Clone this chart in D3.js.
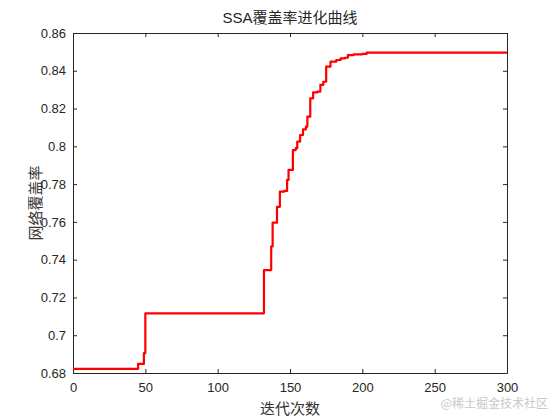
<!DOCTYPE html>
<html><head><meta charset="utf-8">
<script src="https://cdn.jsdelivr.net/npm/d3@7"></script>
<style>body{margin:0;background:#fff}</style>
</head><body>
<svg id="c" width="560" height="420"></svg>
<script>
// breakpoints of the best-coverage curve (iteration where value changes)
const iterations = [0, 45, 49, 50, 132, 137, 138, 141, 143, 146, 148, 149, 152, 154, 155, 157, 159, 161, 162, 164, 166, 169, 171, 173, 175, 178, 182, 185, 188, 190, 194, 200, 203, 300];
const coverage  = [0.6822, 0.6848, 0.6905, 0.7116, 0.7345, 0.7470, 0.7596, 0.7680, 0.7760, 0.7764, 0.7822, 0.7875, 0.7980, 0.7990, 0.8025, 0.8060, 0.8090, 0.8104, 0.8157, 0.8254, 0.8286, 0.8290, 0.8325, 0.8342, 0.8422, 0.8448, 0.8457, 0.8466, 0.8469, 0.8483, 0.8487, 0.8489, 0.8496, 0.8496];
const xTicks = [0, 50, 100, 150, 200, 250, 300];
const yTicks = [0.68, 0.70, 0.72, 0.74, 0.76, 0.78, 0.80, 0.82, 0.84, 0.86];
const titleText = "SSA覆盖率进化曲线";
const xLabel = "迭代次数";
const yLabel = "网络覆盖率";
const watermark = "@稀土掘金技术社区";

const svg = d3.select("#c");
const L = 73, R = 507, T = 33, B = 373;
const x = d3.scaleLinear().domain([0, 300]).range([L, R]);
const y = d3.scaleLinear().domain([0.68, 0.86]).range([B, T]);
const font = "'Liberation Sans', Arial, sans-serif";
const cjk = "'Noto Sans CJK SC', sans-serif";

const fmt = d => d3.format("")(+d.toFixed(2));

// axes with inward ticks
const gx = svg.append("g").attr("transform", `translate(0,${B})`)
  .call(d3.axisBottom(x).tickValues(xTicks).tickSizeInner(-4).tickSizeOuter(0).tickPadding(10));
const gxTop = svg.append("g").attr("transform", `translate(0,${T})`)
  .call(d3.axisTop(x).tickValues(xTicks).tickSizeInner(-4).tickSizeOuter(0).tickFormat(""));
const gy = svg.append("g").attr("transform", `translate(${L},0)`)
  .call(d3.axisLeft(y).tickValues(yTicks).tickSizeInner(-4).tickSizeOuter(0).tickPadding(7).tickFormat(fmt));
const gyR = svg.append("g").attr("transform", `translate(${R},0)`)
  .call(d3.axisRight(y).tickValues(yTicks).tickSizeInner(-4).tickSizeOuter(0).tickFormat(""));

[gx, gxTop, gy, gyR].forEach(g => {
  g.selectAll("path").attr("stroke", "#262626").attr("stroke-width", 1);
  g.selectAll("line").attr("stroke", "#262626");
  g.selectAll("text").attr("font-family", font).attr("font-size", 13).attr("fill", "#262626");
});

// curve
const data = iterations.map((d, i) => [d, coverage[i]]);
svg.append("path").datum(data)
  .attr("fill", "none").attr("stroke", "#ff0000").attr("stroke-width", 2.2)
  .attr("stroke-linejoin", "round")
  .attr("d", d3.line().x(d => x(d[0])).y(d => y(d[1])).curve(d3.curveStepAfter));

// texts
svg.append("text").attr("x", (L + R) / 2).attr("y", 23).attr("text-anchor", "middle")
  .attr("font-family", font + ", " + cjk).attr("font-size", 15).attr("fill", "#262626").text(titleText);
svg.append("text").attr("x", (L + R) / 2).attr("y", 414).attr("text-anchor", "middle")
  .attr("font-family", cjk).attr("font-size", 15).attr("fill", "#333").text(xLabel);
svg.append("text").attr("transform", `translate(41,${(T + B) / 2}) rotate(-90)`).attr("text-anchor", "middle")
  .attr("font-family", cjk).attr("font-size", 15).attr("fill", "#333").text(yLabel);
svg.append("text").attr("x", 548).attr("y", 408).attr("text-anchor", "end")
  .attr("font-family", cjk).attr("font-size", 12).attr("fill", "#c8c8c8").text(watermark);
</script>
</body></html>
